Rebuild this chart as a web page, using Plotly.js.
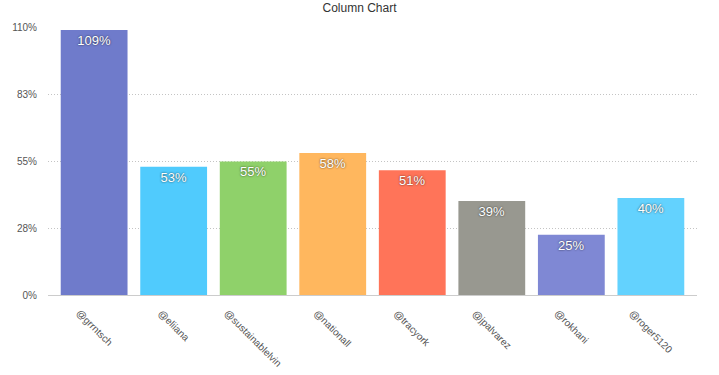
<!DOCTYPE html>
<html>
<head>
<meta charset="utf-8">
<script src="https://cdn.plot.ly/plotly-3.0.1.min.js"></script>
<style>
html,body{margin:0;padding:0;background:#fff;}
#chart{width:719px;height:375px;}
</style>
</head>
<body>
<div id="chart"></div>
<script>
const categories = ["@grrntsch","@eliiana","@sustainablelvin","@nationall","@tracyork","@jpalvarez","@rokhani","@roger5120"];
const values = [108.8, 52.6, 54.8, 58.3, 51.2, 38.6, 24.7, 39.8];
const barColors = ["#6f7bcb","#50cbfd","#8fd16a","#ffb75e","#ff7459","#989890","#7f88d4","#63d2fe"];
const tickVals = [0, 27.5, 55, 82.5, 110];
const tickText = ["0%","28%","55%","83%","110%"];

const FONT = 'Liberation Sans, Arial, sans-serif';

const trace = {
  type: 'bar',
  x: categories,
  y: values,
  marker: {color: barColors, line: {width: 0}},
  text: values.map(v => Math.round(v) + '%'),
  textposition: 'inside',
  insidetextanchor: 'end',
  textangle: 0,
  textfont: {family: FONT, size: 13, color: '#ffffff', shadow: '0px 0px 2px rgba(0,0,0,0.75)'},
  hoverinfo: 'none',
  cliponaxis: false
};

const labelAnnotations = categories.map(c => ({
  x: c, xref: 'x',
  y: 0, yref: 'paper',
  yshift: -10,
  xanchor: 'center', yanchor: 'top',
  text: c,
  textangle: 45,
  showarrow: false,
  font: {family: FONT, size: 10, color: '#555555'}
}));

const layout = {
  width: 719,
  height: 375,
  margin: {l: 48, r: 22, t: 27, b: 80},
  paper_bgcolor: '#ffffff',
  plot_bgcolor: '#ffffff',
  showlegend: false,
  bargap: 0.16,
  title: {
    text: 'Column Chart',
    x: 0.5, xanchor: 'center',
    y: 0.99, yanchor: 'top',
    font: {family: FONT, size: 12, color: '#333333'}
  },
  xaxis: {
    type: 'category',
    range: [-0.58, 7.58],
    showticklabels: false,
    showgrid: false,
    showline: true,
    linecolor: '#cccccc',
    linewidth: 1,
    ticks: '',
    fixedrange: true
  },
  yaxis: {
    range: [0, 110],
    tickvals: tickVals,
    ticktext: tickText,
    tickfont: {family: FONT, size: 10, color: '#555555'},
    showgrid: true,
    gridcolor: '#c4c4c4',
    griddash: '1px,2px',
    gridwidth: 1,
    zeroline: false,
    showline: false,
    ticks: '',
    ticklabelstandoff: 10,
    fixedrange: true
  },
  annotations: labelAnnotations
};

Plotly.newPlot('chart', [trace], layout, {displayModeBar: false, staticPlot: true});
</script>
</body>
</html>
